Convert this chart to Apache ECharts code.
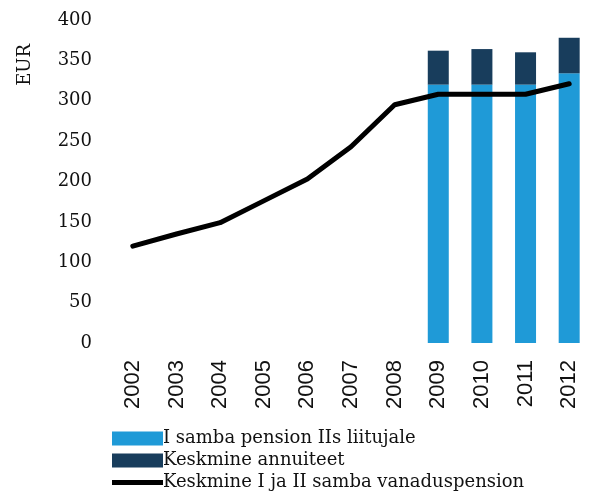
<!DOCTYPE html>
<html>
<head>
<meta charset="utf-8">
<script src="https://cdn.jsdelivr.net/npm/echarts@6/dist/echarts.min.js"></script>
<style>
  html, body { margin: 0; padding: 0; background: #fff; }
  #chart { width: 591px; height: 494px; }
</style>
</head>
<body>
<div id="chart"></div>
<script>
// andmed
const years = ['2002', '2003', '2004', '2005', '2006', '2007', '2008', '2009', '2010', '2011', '2012']
const pillar1Pension = ['-', '-', '-', '-', '-', '-', '-', 320, 320, 320, 334]
const avgAnnuity = ['-', '-', '-', '-', '-', '-', '-', 42, 44, 40, 44]
const avgOldAgePension = [120, 135, 149, 176, 203, 243, 295, 308, 308, 308, 321]
const yTicks = [0, 50, 100, 150, 200, 250, 300, 350, 400]

const serif = 'DejaVu Serif'
const lightBlue = '#1f9ad7'
const darkBlue = '#183d5c'

const chart = echarts.init(document.getElementById('chart'))

chart.setOption({
  animation: false,
  grid: { left: 111, top: 20, width: 483, height: 323, containLabel: false },
  graphic: [{
    type: 'text',
    left: 16,
    top: 44,
    rotation: Math.PI / 2,
    style: { text: 'EUR', font: '18px "DejaVu Serif"', fill: '#111' }
  }],
  legend: {
    orient: 'vertical',
    left: 107,
    top: 424,
    height: 80,
    itemWidth: 51,
    itemHeight: 14,
    itemGap: 3,
    textStyle: { fontFamily: serif, fontSize: 18, lineHeight: 19, color: '#111', padding: [0, 0, 0, -5] },
    data: [
      { name: 'I samba pension IIs liitujale', icon: 'rect' },
      { name: 'Keskmine annuiteet', icon: 'rect' },
      { name: 'Keskmine I ja II samba vanaduspension', icon: 'path://M0,0 H51 V5 H0 Z' }
    ]
  },
  xAxis: {
    type: 'category',
    data: years,
    axisLine: { show: false },
    axisTick: { show: false },
    axisLabel: {
      rotate: 90,
      margin: 17,
      fontFamily: 'Liberation Sans',
      fontSize: 22,
      color: '#111'
    }
  },
  yAxis: {
    type: 'value',
    min: yTicks[0],
    max: yTicks[yTicks.length - 1],
    interval: yTicks[1] - yTicks[0],
    axisLine: { show: false },
    axisTick: { show: false },
    splitLine: { show: false },
    axisLabel: { margin: 19, fontFamily: serif, fontSize: 18, color: '#111' }
  },
  series: [
    {
      name: 'I samba pension IIs liitujale',
      type: 'bar',
      stack: 'pension',
      barWidth: 21,
      itemStyle: { color: lightBlue },
      data: pillar1Pension
    },
    {
      name: 'Keskmine annuiteet',
      type: 'bar',
      stack: 'pension',
      barWidth: 21,
      itemStyle: { color: darkBlue },
      data: avgAnnuity
    },
    {
      name: 'Keskmine I ja II samba vanaduspension',
      type: 'line',
      symbol: 'none',
      lineStyle: { color: '#000', width: 5, cap: 'round' },
      itemStyle: { color: '#000' },
      data: avgOldAgePension
    }
  ]
})
</script>
</body>
</html>
